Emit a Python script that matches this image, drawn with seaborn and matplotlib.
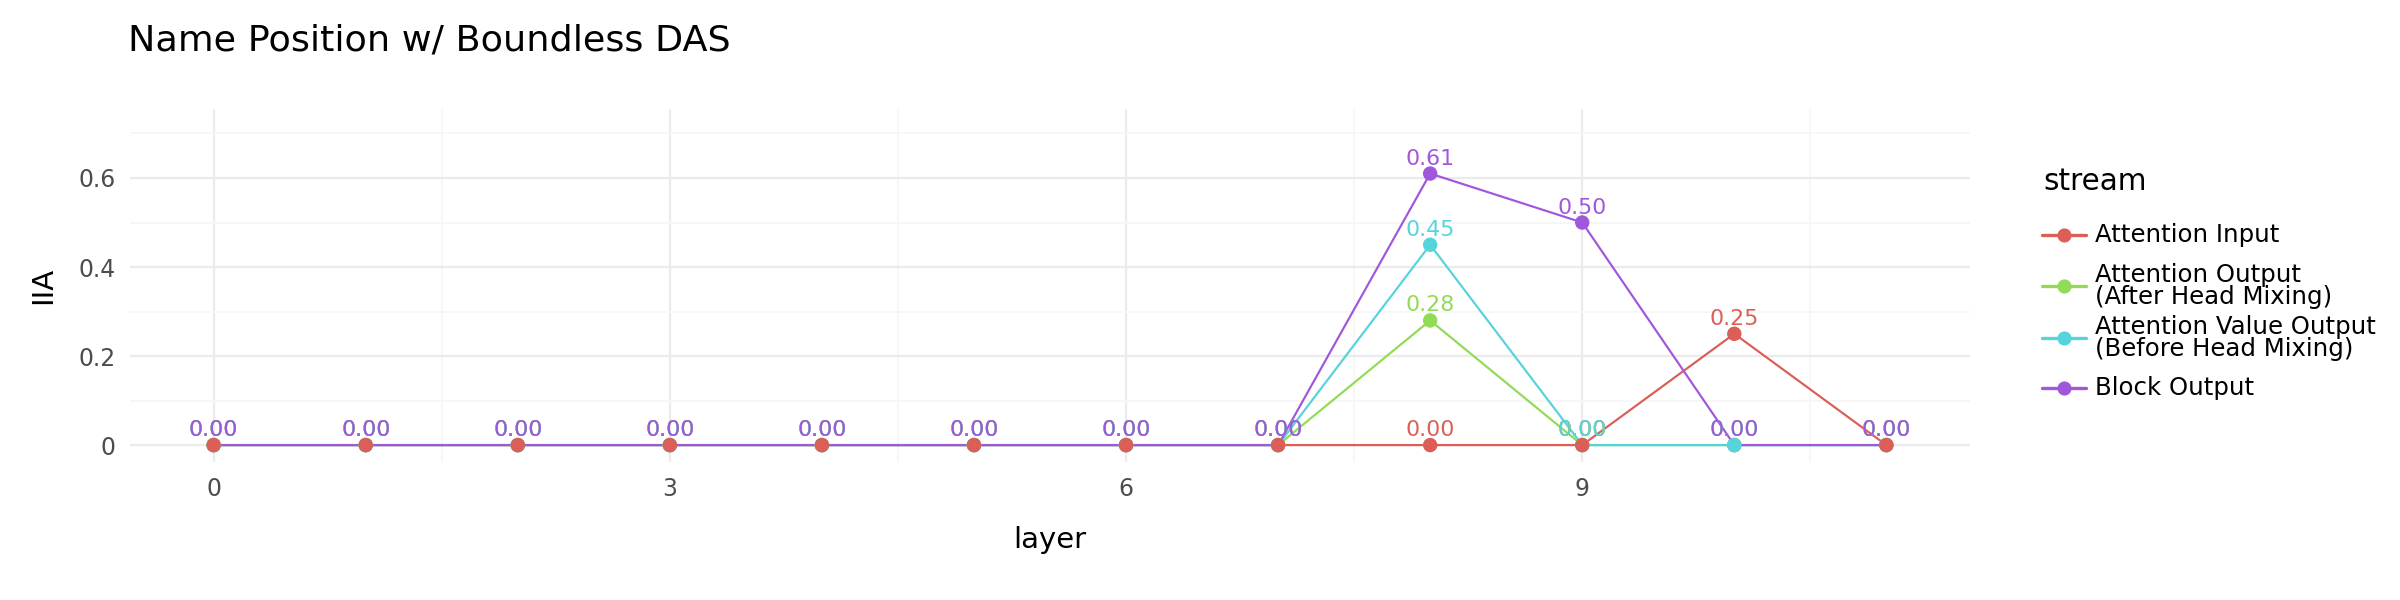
import matplotlib
matplotlib.use("Agg")
import matplotlib.pyplot as plt
from matplotlib.lines import Line2D
from matplotlib.ticker import FixedLocator
import seaborn as sns
import pandas as pd

layers = list(range(12))
streams = ["Attention Input",
           "Attention Output\n(After Head Mixing)",
           "Attention Value Output\n(Before Head Mixing)",
           "Block Output"]
attn_input = [0, 0, 0, 0, 0, 0, 0, 0, 0, 0, 0.25, 0]
attn_output = [0, 0, 0, 0, 0, 0, 0, 0, 0.28, 0, 0, 0]
attn_value = [0, 0, 0, 0, 0, 0, 0, 0, 0.45, 0, 0, 0]
block_output = [0, 0, 0, 0, 0, 0, 0, 0, 0.61, 0.50, 0, 0]
series = [attn_input, attn_output, attn_value, block_output]

rows = []
for s, vals in zip(streams, series):
    for l, v in zip(layers, vals):
        rows.append({"layer": l, "IIA": v, "stream": s})
df = pd.DataFrame(rows)

sns.set_theme(style="white")
plt.rcParams["font.family"] = ["DejaVu Sans"]
plt.rcParams["text.color"] = "black"
plt.rcParams["axes.labelcolor"] = "black"

palette = dict(zip(streams, sns.color_palette("hls", 4)))

W, H = 2400, 600
fig = plt.figure(figsize=(16, 4), dpi=150)
ax = fig.add_axes([130 / W, 1 - 462 / H, (1970 - 130) / W, (462 - 109) / H])

# lines: red, green, cyan, purple (purple on top)
sns.lineplot(data=df, x="layer", y="IIA", hue="stream", hue_order=streams,
             palette=palette, linewidth=1.05, ax=ax, legend=False, zorder=3)

# points: purple, green, cyan, red (red on top)
pt_order = [streams[3], streams[1], streams[2], streams[0]]
dfp = pd.concat([df[df["stream"] == s] for s in pt_order])
sns.scatterplot(data=dfp, x="layer", y="IIA", hue="stream", palette=palette,
                s=48, linewidth=0, ax=ax, legend=False, zorder=4)

# text labels
for s, vals in zip(streams, series):
    for l, v in zip(layers, vals):
        ax.annotate(f"{v:.2f}", (l, v), xytext=(0, 4.3), textcoords="offset points",
                    ha="center", va="baseline", fontsize=10.6, color=palette[s], zorder=5)

ax.set_xlim(-0.55, 11.55)
ax.set_ylim(-0.038, 0.755)
ax.set_xticks([0, 3, 6, 9])
ax.set_xticklabels(["0", "3", "6", "9"])
ax.set_yticks([0, 0.2, 0.4, 0.6])
ax.set_yticklabels(["0", "0.2", "0.4", "0.6"])
ax.xaxis.set_minor_locator(FixedLocator([1.5, 4.5, 7.5, 10.5]))
ax.yaxis.set_minor_locator(FixedLocator([0.1, 0.3, 0.5, 0.7]))
ax.grid(True, which="major", color="#EBEBEB", linewidth=1.1)
ax.grid(True, which="minor", color="#F7F7F7", linewidth=0.9)
ax.set_axisbelow(True)
for sp in ax.spines.values():
    sp.set_visible(False)
ax.tick_params(axis="both", which="both", length=0, labelsize=11.3, labelcolor="#4D4D4D", pad=7)

ax.set_xlabel("layer", fontsize=14, labelpad=12)
ax.set_ylabel("IIA", fontsize=14, labelpad=10)

fig.text(128 / W, 1 - 40 / H, "Name Position w/ Boundless DAS", fontsize=17.5,
         ha="left", va="center")

# legend drawn manually in figure pixel coordinates
fig.text(2043 / W, 1 - 182 / H, "stream", fontsize=14.2, ha="left", va="center")
entry_y = [235, 286, 338, 388]
for s, yp in zip(streams, entry_y):
    yf = 1 - yp / H
    fig.add_artist(Line2D([2042 / W, 2086 / W], [yf, yf], color=palette[s],
                          linewidth=1.6, transform=fig.transFigure))
    fig.add_artist(Line2D([2064 / W], [yf], color=palette[s], marker="o",
                          markersize=6.8, markeredgewidth=0, linestyle="none",
                          transform=fig.transFigure))
    fig.text(2095 / W, yf, s, fontsize=11.7, ha="left", va="center", linespacing=0.88)

fig.savefig("out.png", dpi=150, facecolor="white")
